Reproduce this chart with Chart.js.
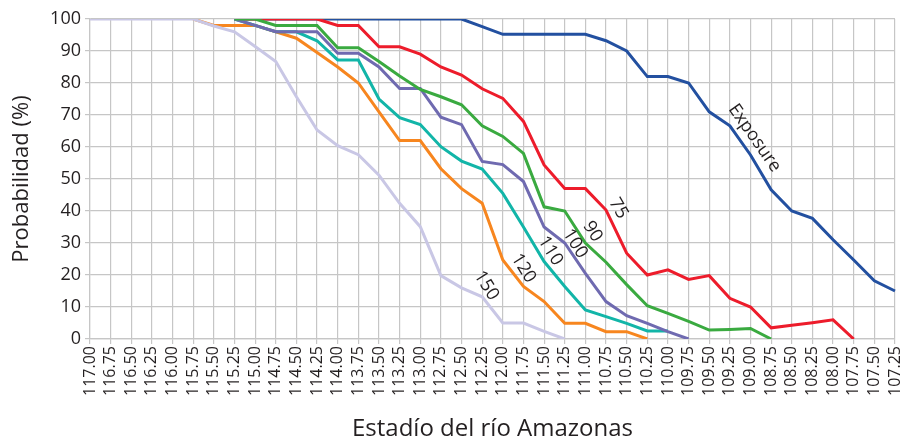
<!DOCTYPE html>
<html>
<head>
<meta charset="utf-8">
<script src="https://cdn.jsdelivr.net/npm/chart.js@4/dist/chart.umd.min.js"></script>
<style>
	html, body { margin: 0; padding: 0; background: #fff; }
	#wrap { width: 903px; height: 444px; position: relative; }
</style>
</head>
<body>
<div id="wrap"><canvas id="chart"></canvas></div>
<script>
// river stage categories, high to low (x axis)
const stages = [
	'117.00', '116.75', '116.50', '116.25', '116.00', '115.75', '115.50', '115.25',
	'115.00', '114.75', '114.50', '114.25', '114.00', '113.75', '113.50', '113.25',
	'113.00', '112.75', '112.50', '112.25', '112.00', '111.75', '111.50', '111.25',
	'111.00', '110.75', '110.50', '110.25', '110.00', '109.75', '109.50', '109.25',
	'109.00', '108.75', '108.50', '108.25', '108.00', '107.75', '107.50', '107.25',
];

// probability (%) per curve, one value per stage (null = curve not drawn there)
const exposure = [null, null, null, null, null, null, null,
	100, 100, 100, 100, 100, 100, 100, 100, 100, 100, 100, 100,
	97.6, 95.2, 95.2, 95.2, 95.2, 95.2, 93.2, 90, 82, 82, 80, 71, 66.6, 57.5, 46.6, 40, 37.7, 31, 24.7, 18.2, 15];
const p75 = [null, null, null, null, null, null, null,
	100, 100, 100, 100, 100, 98, 98, 91.3, 91.3, 89, 85, 82.5, 78.2, 75.2, 68, 54.4, 47, 47,
	40.3, 26.8, 20, 21.6, 18.6, 19.8, 12.7, 10, 3.5, 4.3, 5.1, 6, 0, null, null];
const p90 = [null, null, null, null, null, null, null,
	100, 100, 98, 98, 98, 91, 91, 86.7, 82.2, 78, 75.7, 73.2, 66.6, 63.3, 58, 41.3, 40,
	30, 24, 17, 10.4, 8, 5.5, 2.8, 3, 3.3, 0, null, null, null, null, null, null];
const p100 = [null, null, null, null, null, null, null,
	100, 98, 96, 96, 96, 89.3, 89.3, 85, 78.3, 78.3, 69.3, 67, 55.5, 54.5, 49.2, 35, 30,
	20.5, 11.7, 7.3, 4.9, 2.3, 0, null, null, null, null, null, null, null, null, null, null];
const p110 = [null, null, null, null, null, null, null,
	100, 98, 96, 96, 93.2, 87.2, 87.2, 75, 69.2, 67, 60.1, 55.6, 53.1, 45.5, 35, 24.2, 16.4,
	9.1, 7, 4.9, 2.5, 2.5, null, null, null, null, null, null, null, null, null, null, null];
const p120 = [null, null, null, null, null,
	100, 98, 98, 98, 96, 94, 89.5, 85, 80, 71, 62, 62, 53.2, 47, 42.4, 24.7, 16.4, 11.7, 4.9,
	4.9, 2.3, 2.3, 0, null, null, null, null, null, null, null, null, null, null, null, null];
const p150 = [100, 100, 100, 100, 100, 100,
	97.8, 96, 91.4, 86.7, 75.7, 65.3, 60.4, 57.6, 51.2, 42.4, 35.1, 19.8, 16, 13.2, 5, 5, 2.4, 0,
	null, null, null, null, null, null, null, null, null, null, null, null, null, null, null, null];

// text written along each curve: stage index (fractional) and probability of its centre
const curveNotes = [
	{ text: 'Exposure', at: 32.2, value: 62.8, angle: 55 },
	{ text: '75', at: 25.6, value: 40.8, angle: 60 },
	{ text: '90', at: 24.35, value: 33.6, angle: 58 },
	{ text: '100', at: 23.5, value: 29.8, angle: 58 },
	{ text: '110', at: 22.3, value: 27.5, angle: 58 },
	{ text: '120', at: 21.0, value: 22.1, angle: 58 },
	{ text: '150', at: 19.2, value: 16.7, angle: 58 },
];

const ink = '#231f20';
const gridGray = '#c6c6c6';
const face = '"Open Sans", Lato, sans-serif';
Chart.defaults.font.family = face;
Chart.defaults.color = ink;

const curveLabels = {
	id: 'curveLabels',
	afterDatasetsDraw(chart) {
		const { ctx, scales: { x, y } } = chart;
		ctx.save();
		ctx.fillStyle = ink;
		ctx.font = `18px ${face}`;
		ctx.textAlign = 'center';
		ctx.textBaseline = 'middle';
		for (const n of curveNotes) {
			ctx.save();
			ctx.translate(x.getPixelForValue(n.at), y.getPixelForValue(n.value));
			ctx.rotate(n.angle * Math.PI / 180);
			ctx.fillText(n.text, 0, 0);
			ctx.restore();
		}
		ctx.restore();
	},
};

// order: lower draws on top
const series = [
	{ data: exposure, color: '#2350a0', order: 6 },
	{ data: p75, color: '#ed1c2b', order: 5 },
	{ data: p90, color: '#3aaa40', order: 1 },
	{ data: p100, color: '#6f6ab0', order: 2 },
	{ data: p110, color: '#12b5a8', order: 3 },
	{ data: p120, color: '#f7861f', order: 4 },
	{ data: p150, color: '#c9c7e5', order: 0 },
];

new Chart(document.getElementById('chart'), {
	type: 'line',
	data: {
		labels: stages,
		datasets: series.map(s => ({
			data: s.data, borderColor: s.color, backgroundColor: s.color, order: s.order,
			borderWidth: 3, pointRadius: 0, tension: 0, spanGaps: false,
		})),
	},
	plugins: [curveLabels],
	options: {
		responsive: true,
		maintainAspectRatio: false,
		animation: false,
		layout: { padding: { top: 19, right: 8, left: 0, bottom: 0 } },
		scales: {
			x: {
				offset: false,
				grid: { color: gridGray, lineWidth: 1.2, tickLength: 5 },
				border: { color: gridGray, width: 1.2 },
				ticks: { autoSkip: false, minRotation: 90, maxRotation: 90, padding: 2, font: { size: 16 }, color: ink },
				title: { display: true, text: 'Estadío del río Amazonas', font: { size: 24 }, color: ink, padding: { top: 0, bottom: 0 } },
				// fixed band under the plot; rotated end labels need no side room
				afterFit: s => { s.height = 105; s.paddingLeft = 0; s.paddingRight = 0; },
			},
			y: {
				min: 0, max: 100,
				grid: { color: gridGray, lineWidth: 1.2, tickLength: 5 },
				border: { color: gridGray, width: 1.2 },
				ticks: { stepSize: 5, padding: 4, font: { size: 18 }, color: ink, callback: v => (v % 10 === 0 ? v : '') },
				title: { display: true, text: 'Probabilidad (%)', font: { size: 22 }, color: ink, padding: { top: 9, bottom: 0 } },
				afterFit: s => { s.width = 90; },
			},
		},
		plugins: { legend: { display: false }, tooltip: { enabled: false } },
	},
});
</script>
</body>
</html>
